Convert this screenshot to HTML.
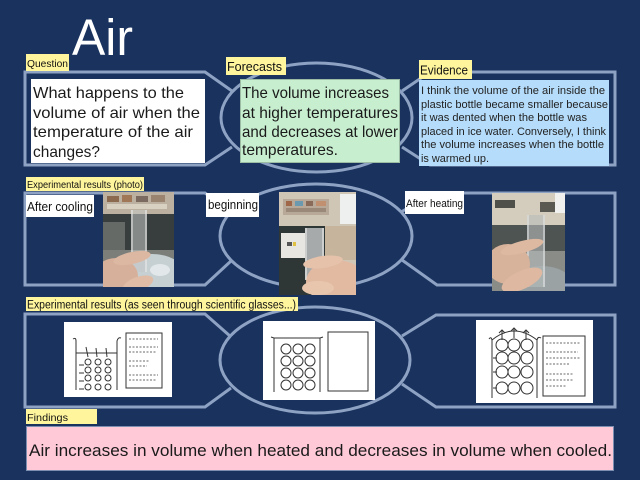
<!DOCTYPE html>
<html><head><meta charset="utf-8">
<style>
html,body{margin:0;padding:0;background:#1a325e;}
svg{display:block}
text{font-family:"Liberation Sans","DejaVu Sans",sans-serif;}
</style></head>
<body>
<svg width="640" height="480" viewBox="0 0 640 480" xmlns="http://www.w3.org/2000/svg">
<defs>
<clipPath id="p1"><rect x="103" y="192" width="71" height="95"/></clipPath>
<clipPath id="p2"><rect x="279" y="192" width="77" height="103"/></clipPath>
<clipPath id="p3"><rect x="492" y="193" width="73" height="98"/></clipPath>
</defs>
<rect width="640" height="480" fill="#1a325e"/>

<!-- Title -->
<text x="72" y="55" font-size="51" fill="#ffffff" textLength="61" lengthAdjust="spacingAndGlyphs">Air</text>

<!-- outlines -->
<g fill="none" stroke="#8ea3c4" stroke-width="3" stroke-linejoin="miter">
  <path d="M232,91 L205,72 L25,72 L25,165 L205,165 L232,147"/>
  <ellipse cx="316.5" cy="117.5" rx="95.5" ry="54.5"/>
  <path d="M402,91 L430,72 L615,72 L615,165 L430,165 L402,147"/>

  <path d="M231,212 L205,193 L25,193 L25,285 L205,285 L231,261"/>
  <ellipse cx="316" cy="236" rx="96" ry="52"/>
  <path d="M401,212 L435,193 L615,193 L615,285 L437,285 L402,260"/>

  <path d="M230,336 L205,314 L25,314 L25,407 L205,407 L231,388"/>
  <ellipse cx="315" cy="360" rx="95" ry="53"/>
  <path d="M402,336 L436,315 L615,315 L615,407 L436,407 L402,384"/>
</g>

<!-- Question -->
<rect x="26" y="54" width="43" height="17" fill="#fff59d"/>
<text x="27" y="67" font-size="10.5" fill="#111" textLength="41" lengthAdjust="spacingAndGlyphs">Question</text>
<rect x="31" y="79" width="174" height="84" fill="#ffffff"/>
<g font-size="16" fill="#1a1a1a">
<text x="33" y="98" textLength="151" lengthAdjust="spacingAndGlyphs">What happens to the</text>
<text x="33" y="118" textLength="167" lengthAdjust="spacingAndGlyphs">volume of air when the</text>
<text x="33" y="137" textLength="160" lengthAdjust="spacingAndGlyphs">temperature of the air</text>
<text x="33" y="157" textLength="67" lengthAdjust="spacingAndGlyphs">changes?</text>
</g>

<!-- Forecasts -->
<rect x="226" y="57" width="60" height="18" fill="#fff59d"/>
<text x="227" y="71" font-size="13" fill="#111" textLength="55" lengthAdjust="spacingAndGlyphs">Forecasts</text>
<rect x="240.5" y="79.5" width="159" height="83" fill="#c8eed0" stroke="#9cbca4" stroke-width="1"/>
<g font-size="16" fill="#1a1a1a">
<text x="242" y="98" textLength="147" lengthAdjust="spacingAndGlyphs">The volume increases</text>
<text x="242" y="118" textLength="156" lengthAdjust="spacingAndGlyphs">at higher temperatures</text>
<text x="242" y="137" textLength="156" lengthAdjust="spacingAndGlyphs">and decreases at lower</text>
<text x="242" y="155" textLength="96" lengthAdjust="spacingAndGlyphs">temperatures.</text>
</g>

<!-- Evidence -->
<rect x="419" y="60" width="53" height="19" fill="#fff59d"/>
<text x="420" y="74.5" font-size="12.5" fill="#111" textLength="48" lengthAdjust="spacingAndGlyphs">Evidence</text>
<rect x="419" y="80" width="190" height="86" fill="#b5dcfa"/>
<g font-size="11" fill="#222">
<text x="421" y="94" textLength="184" lengthAdjust="spacingAndGlyphs">I think the volume of the air inside the</text>
<text x="421" y="108" textLength="187" lengthAdjust="spacingAndGlyphs">plastic bottle became smaller because</text>
<text x="421" y="121" textLength="166" lengthAdjust="spacingAndGlyphs">it was dented when the bottle was</text>
<text x="421" y="135" textLength="185" lengthAdjust="spacingAndGlyphs">placed in ice water. Conversely, I think</text>
<text x="421" y="148" textLength="183" lengthAdjust="spacingAndGlyphs">the volume increases when the bottle</text>
<text x="421" y="162" textLength="68" lengthAdjust="spacingAndGlyphs">is warmed up.</text>
</g>

<!-- Experimental results (photo) -->
<rect x="26" y="177" width="118" height="14" fill="#fff59d"/>
<text x="27" y="188" font-size="10" fill="#111" textLength="116" lengthAdjust="spacingAndGlyphs">Experimental results (photo)</text>

<rect x="26" y="195" width="68" height="22" fill="#ffffff"/>
<text x="27" y="211" font-size="13" fill="#111" textLength="66" lengthAdjust="spacingAndGlyphs">After cooling</text>

<rect x="206" y="193" width="53" height="24" fill="#ffffff"/>
<text x="208" y="209" font-size="12.5" fill="#111" textLength="50" lengthAdjust="spacingAndGlyphs">beginning</text>

<rect x="405" y="191" width="59" height="23" fill="#ffffff"/>
<text x="406" y="207" font-size="11" fill="#111" textLength="57" lengthAdjust="spacingAndGlyphs">After heating</text>

<!-- Photo 1 -->
<g clip-path="url(#p1)">
  <rect x="103" y="192" width="71" height="95" fill="#7c7e7a"/>
  <rect x="103" y="192" width="71" height="23" fill="#bcb1a0"/>
  <rect x="107" y="196" width="12" height="6" fill="#8c6a50"/>
  <rect x="122" y="195" width="10" height="7" fill="#a07858"/>
  <rect x="136" y="196" width="12" height="6" fill="#7a6a60"/>
  <rect x="151" y="195" width="14" height="7" fill="#9a8470"/>
  <rect x="107" y="204" width="60" height="5" fill="#d8d0c0"/>
  <rect x="103" y="214" width="71" height="36" fill="#383d3d"/>
  <rect x="103" y="222" width="22" height="28" fill="#666a66"/>
  <ellipse cx="152" cy="276" rx="34" ry="22" fill="#c6cfd2"/>
  <ellipse cx="160" cy="270" rx="10" ry="6" fill="#e2e8ea"/>
  <rect x="131" y="210" width="16" height="62" fill="#c4c8c6" opacity="0.55"/>
  <line x1="132" y1="210" x2="132" y2="272" stroke="#eef0f0" stroke-width="1"/>
  <line x1="146" y1="210" x2="146" y2="272" stroke="#eef0f0" stroke-width="1"/>
  <ellipse cx="116" cy="276" rx="22" ry="18" fill="#d6b09a"/>
  <ellipse cx="132" cy="258" rx="19" ry="6" fill="#dcb8a2" transform="rotate(-12 132 258)"/>
  <ellipse cx="138" cy="284" rx="16" ry="7" fill="#e0bca6" transform="rotate(-20 138 284)"/>
</g>

<!-- Photo 2 -->
<g clip-path="url(#p2)">
  <rect x="279" y="192" width="77" height="103" fill="#cfc6b6"/>
  <rect x="283" y="199" width="46" height="16" fill="#b8a898"/>
  <rect x="286" y="201" width="6" height="5" fill="#a06848"/>
  <rect x="295" y="201" width="8" height="5" fill="#6b9ab0"/>
  <rect x="306" y="201" width="7" height="5" fill="#8a6a58"/>
  <rect x="316" y="201" width="10" height="5" fill="#c09070"/>
  <rect x="286" y="208" width="40" height="4" fill="#9a8878"/>
  <rect x="340" y="194" width="16" height="30" fill="#eef0f0"/>
  <rect x="325" y="226" width="31" height="34" fill="#c6b49c"/>
  <rect x="279" y="226" width="46" height="69" fill="#2f3636"/>
  <rect x="281" y="233" width="24" height="25" fill="#e8e6e0"/>
  <rect x="287" y="242" width="5" height="4" fill="#555"/>
  <rect x="293" y="242" width="3" height="4" fill="#e0c040"/>
  <rect x="305" y="228" width="19" height="52" fill="#d8dcdc" opacity="0.7"/>
  <line x1="306" y1="228" x2="306" y2="280" stroke="#f4f4f4"/>
  <line x1="323" y1="228" x2="323" y2="280" stroke="#f4f4f4"/>
  <ellipse cx="336" cy="282" rx="30" ry="22" fill="#e2baa2"/>
  <ellipse cx="323" cy="262" rx="20" ry="6" fill="#e6c2aa" transform="rotate(-8 323 262)"/>
  <ellipse cx="318" cy="288" rx="16" ry="7" fill="#e8c6ae"/>
</g>

<!-- Photo 3 -->
<g clip-path="url(#p3)">
  <rect x="492" y="193" width="73" height="98" fill="#8a8c88"/>
  <rect x="492" y="193" width="73" height="33" fill="#d4ccbc"/>
  <rect x="495" y="200" width="20" height="8" fill="#50504a"/>
  <rect x="540" y="202" width="20" height="10" fill="#5a5a52"/>
  <rect x="555" y="193" width="10" height="20" fill="#f0f0ee"/>
  <rect x="492" y="225" width="73" height="26" fill="#4e5452"/>
  <ellipse cx="542" cy="284" rx="30" ry="18" fill="#9aa2a4"/>
  <rect x="527" y="215" width="18" height="72" fill="#b8bcbc" opacity="0.6"/>
  <line x1="528" y1="215" x2="528" y2="287" stroke="#e8eaea"/>
  <line x1="544" y1="215" x2="544" y2="287" stroke="#e8eaea"/>
  <ellipse cx="508" cy="264" rx="22" ry="20" fill="#d8b39c"/>
  <ellipse cx="522" cy="247" rx="22" ry="6" fill="#ddb9a2" transform="rotate(-15 522 247)"/>
  <ellipse cx="522" cy="280" rx="22" ry="9" fill="#deb8a0" transform="rotate(-25 522 280)"/>
</g>

<!-- Experimental results (glasses) -->
<rect x="26" y="297" width="272" height="14" fill="#fff59d"/>
<text x="27" y="308.5" font-size="11.5" fill="#111" textLength="269" lengthAdjust="spacingAndGlyphs">Experimental results (as seen through scientific glasses...)</text>

<!-- Diagram 1 -->
<rect x="64" y="322" width="108" height="75" fill="#ffffff"/>
<g fill="none" stroke="#333" stroke-width="1">
  <path d="M73,339 Q76,337 76,341 L76,390"/>
  <path d="M117,390 L117,341 Q118,337 121,338"/>
  <line x1="76" y1="353" x2="117" y2="353"/>
  <line x1="86" y1="347" x2="88" y2="357"/><line x1="96" y1="348" x2="97" y2="357"/><line x1="106" y1="348" x2="107" y2="357"/>
  <circle cx="88" cy="362" r="3"/><circle cx="98" cy="362" r="3"/><circle cx="108" cy="362" r="3"/>
  <circle cx="88" cy="370" r="3"/><circle cx="98" cy="370" r="3"/><circle cx="108" cy="370" r="3"/>
  <circle cx="88" cy="378" r="3"/><circle cx="98" cy="378" r="3"/><circle cx="108" cy="378" r="3"/>
  <circle cx="88" cy="387" r="3"/><circle cx="98" cy="387" r="3"/><circle cx="108" cy="387" r="3"/>
  <line x1="79" y1="365" x2="84" y2="365"/><line x1="79" y1="373" x2="84" y2="373"/><line x1="79" y1="381" x2="84" y2="381"/><line x1="79" y1="389" x2="84" y2="389"/>
  <rect x="126" y="333" width="36" height="55"/>
</g>
<g stroke="#888" stroke-width="1.3" stroke-dasharray="2 1.5">
  <line x1="129" y1="339" x2="158" y2="339"/><line x1="129" y1="347" x2="158" y2="347"/>
  <line x1="129" y1="352" x2="156" y2="352"/><line x1="129" y1="361" x2="150" y2="361"/>
  <line x1="129" y1="366" x2="147" y2="366"/><line x1="129" y1="375" x2="158" y2="375"/>
  <line x1="129" y1="380" x2="156" y2="380"/>
</g>

<!-- Diagram 2 -->
<rect x="263" y="321" width="112" height="79" fill="#ffffff"/>
<g fill="none" stroke="#333" stroke-width="1">
  <path d="M271,337 L274,338 L274,392"/>
  <path d="M320,392 L320,338 L323,337"/>
  <line x1="274" y1="338" x2="320" y2="338"/>
  <circle cx="286" cy="349" r="5"/><circle cx="298" cy="349" r="5"/><circle cx="310" cy="349" r="5"/>
  <circle cx="286" cy="361" r="5"/><circle cx="298" cy="361" r="5"/><circle cx="310" cy="361" r="5"/>
  <circle cx="286" cy="373" r="5"/><circle cx="298" cy="373" r="5"/><circle cx="310" cy="373" r="5"/>
  <circle cx="286" cy="385" r="5"/><circle cx="298" cy="385" r="5"/><circle cx="310" cy="385" r="5"/>
  <rect x="328" y="332" width="40" height="59"/>
</g>

<!-- Diagram 3 -->
<rect x="476" y="320" width="117" height="83" fill="#ffffff"/>
<g fill="none" stroke="#333" stroke-width="1">
  <path d="M489,339 Q491,336 492,340 L492,398"/>
  <path d="M537,398 L537,340 Q538,336 541,338"/>
  <path d="M492,340 Q514,322 537,340"/>
  <line x1="502" y1="340" x2="502" y2="330"/><line x1="514" y1="338" x2="514" y2="328"/><line x1="526" y1="340" x2="526" y2="330"/>
  <path d="M499,333 L502,330 L505,333 M511,331 L514,328 L517,331 M523,333 L526,330 L529,333"/>
  <circle cx="502" cy="345" r="6"/><circle cx="514" cy="345" r="6"/><circle cx="527" cy="345" r="6"/>
  <circle cx="502" cy="358" r="6"/><circle cx="514" cy="358" r="6"/><circle cx="527" cy="358" r="6"/>
  <circle cx="502" cy="372" r="6"/><circle cx="514" cy="372" r="6"/><circle cx="527" cy="372" r="6"/>
  <circle cx="502" cy="388" r="6"/><circle cx="514" cy="388" r="6"/><circle cx="527" cy="388" r="6"/>
  <line x1="493" y1="358" x2="497" y2="358"/><line x1="493" y1="372" x2="497" y2="372"/><line x1="493" y1="388" x2="497" y2="388"/>
  <rect x="543" y="336" width="42" height="60"/>
</g>
<g stroke="#888" stroke-width="1.3" stroke-dasharray="2 1.5">
  <line x1="546" y1="343" x2="580" y2="343"/><line x1="546" y1="352" x2="578" y2="352"/>
  <line x1="546" y1="358" x2="580" y2="358"/><line x1="546" y1="364" x2="570" y2="364"/>
  <line x1="546" y1="374" x2="574" y2="374"/><line x1="546" y1="380" x2="574" y2="380"/>
  <line x1="546" y1="386" x2="566" y2="386"/>
</g>

<!-- Findings -->
<rect x="26" y="409" width="71" height="15" fill="#fff59d"/>
<text x="27" y="421" font-size="10.5" fill="#111" textLength="41" lengthAdjust="spacingAndGlyphs">Findings</text>
<rect x="26.5" y="426.5" width="587" height="44" fill="#ffc9d8" stroke="#7d8fb0" stroke-width="1"/>
<text x="29" y="456" font-size="17" fill="#1a1a1a" textLength="583" lengthAdjust="spacingAndGlyphs">Air increases in volume when heated and decreases in volume when cooled.</text>
</svg>
</body></html>
